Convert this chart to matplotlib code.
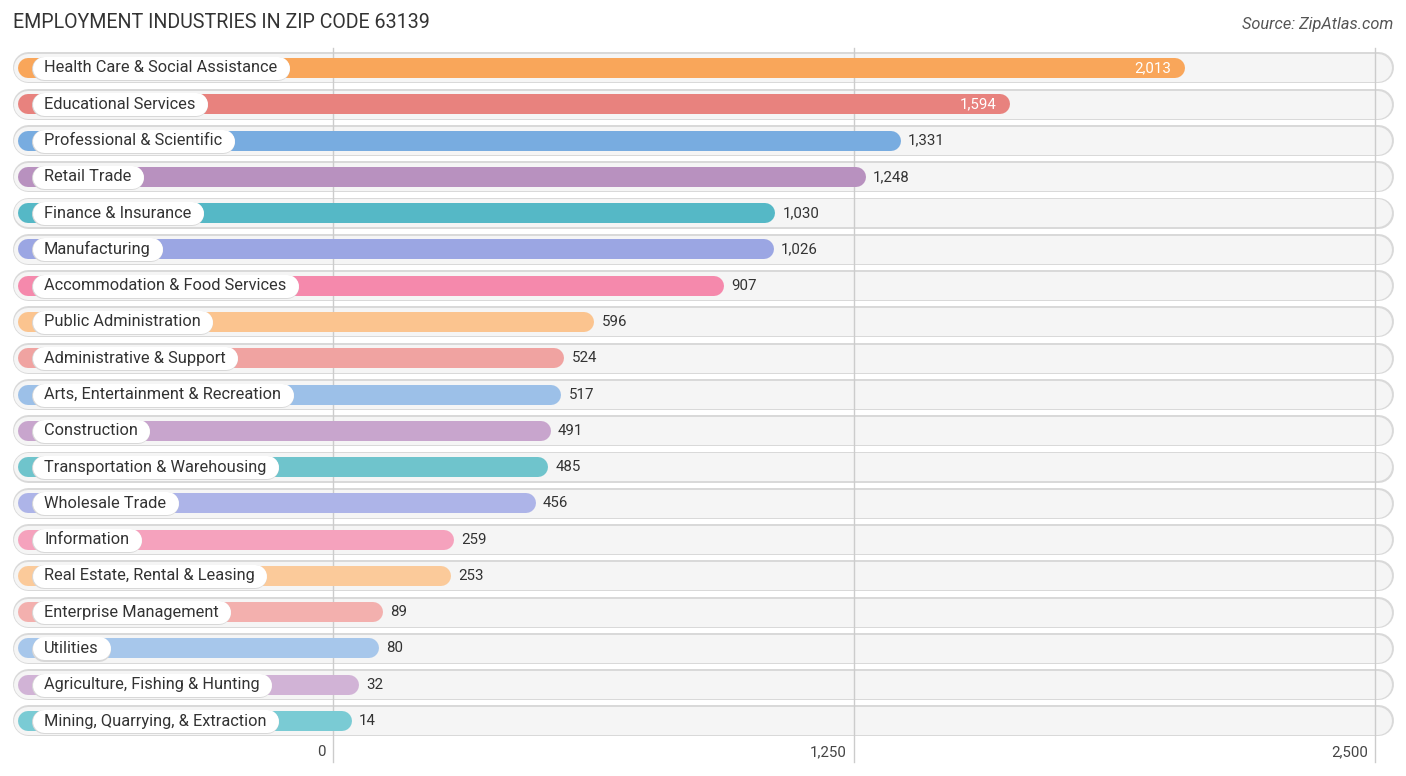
import matplotlib
matplotlib.use("Agg")
import matplotlib.pyplot as plt
from matplotlib.lines import Line2D

categories = [
    "Health Care & Social Assistance", "Educational Services", "Professional & Scientific",
    "Retail Trade", "Finance & Insurance", "Manufacturing", "Accommodation & Food Services",
    "Public Administration", "Administrative & Support", "Arts, Entertainment & Recreation",
    "Construction", "Transportation & Warehousing", "Wholesale Trade", "Information",
    "Real Estate, Rental & Leasing", "Enterprise Management", "Utilities",
    "Agriculture, Fishing & Hunting", "Mining, Quarrying, & Extraction",
]
values = [2013, 1594, 1331, 1248, 1030, 1026, 907, 596, 524, 517, 491, 485, 456, 259, 253, 89, 80, 32, 14]
colors = [
    "#f9a65a", "#e8827e", "#78ace0", "#b891bf", "#55b8c6", "#9ba6e3", "#f589ac",
    "#fbc48f", "#f0a3a1", "#9cc0e8", "#c8a5cd", "#6fc4cc", "#adb4e8", "#f5a2bd",
    "#fbca9a", "#f3b0ae", "#a7c7eb", "#d1b3d6", "#7acbd4",
]
ticks = [0, 1250, 2500]
tick_labels = ["0", "1,250", "2,500"]
title = "EMPLOYMENT INDUSTRIES IN ZIP CODE 63139"
source = "Source: ZipAtlas.com"

W, H, DPI = 1406, 776, 100
fig = plt.figure(figsize=(W / DPI, H / DPI), dpi=DPI)
ax = fig.add_axes([0, 0, 1, 1])
ax.set_axis_off()

# pixel mapping: 0 -> px 333, 2500 -> px 1375
x0_px, x1_px = 333.0, 1375.0
ppu = (x1_px - x0_px) / 2500.0
ax.set_xlim(-x0_px / ppu, (W - x0_px) / ppu)
row0_px, row_step = 68.0, 36.28
ax.set_ylim((H - row0_px) / row_step, -row0_px / row_step)

def px2x(px):
    return (px - x0_px) / ppu

def pt(px):
    return px * 72.0 / DPI

font = ["Roboto", "DejaVu Sans"]
n = len(categories)

# background pills
for i in range(n):
    ax.add_line(Line2D([px2x(28), px2x(1378)], [i - 0.015, i - 0.015], lw=pt(31), color="#d9d9d9",
                       solid_capstyle="round", zorder=1))
    ax.add_line(Line2D([px2x(28), px2x(1378)], [i + 0.01, i + 0.01], lw=pt(28), color="#f5f5f5",
                       solid_capstyle="round", zorder=2))

# gridlines
for t in ticks:
    ax.plot([t, t], [(48 - row0_px) / row_step, (762 - row0_px) / row_step], color="#cccccc",
            lw=1, zorder=3)

# bars
for i, (v, c) in enumerate(zip(values, colors)):
    ax.add_line(Line2D([px2x(28), v + 3 / ppu], [i, i], lw=pt(20), color=c,
                       solid_capstyle="round", zorder=4))

# category labels
texts = []
for i, cat in enumerate(categories):
    t = ax.text(px2x(44), i, cat, ha="left", va="center", fontsize=11.8, color="#333333",
                family=font, zorder=7)
    texts.append(t)

fig.canvas.draw()
r = fig.canvas.get_renderer()
for i, t in enumerate(texts):
    bb = t.get_window_extent(renderer=r)
    right_px = bb.x1 + 12
    left_px = 32
    rad = 11.5
    xs = [px2x(left_px + rad), px2x(right_px - rad)]
    ax.add_line(Line2D(xs, [i + 0.03, i + 0.03], lw=pt(24), color="#d8d8d8",
                       solid_capstyle="round", zorder=5))
    ax.add_line(Line2D(xs, [i, i], lw=pt(23), color="white",
                       solid_capstyle="round", zorder=6))

# value labels
for i, v in enumerate(values):
    lab = f"{v:,}"
    if i < 2:
        ax.text(v + 3 / ppu - 4 / ppu, i, lab, ha="right", va="center", fontsize=10.8,
                color="white", family=font, zorder=8)
    else:
        ax.text(v + 3 / ppu + 17 / ppu, i, lab, ha="left", va="center", fontsize=10.8,
                color="#333333", family=font, zorder=8)

# tick labels
for t, lab in zip(ticks, tick_labels):
    ax.text(t - 7 / ppu, (752 - row0_px) / row_step, lab, ha="right", va="center",
            fontsize=10.8, color="#444444", family=font)

fig.text(13 / W, 1 - 22 / H, title, ha="left", va="center", fontsize=14.1, color="#333333",
         family=font)
fig.text(1393 / W, 1 - 25 / H, source, ha="right", va="center", fontsize=11.8,
         color="#555555", style="italic", family=font)

fig.savefig("out.png", dpi=DPI)
